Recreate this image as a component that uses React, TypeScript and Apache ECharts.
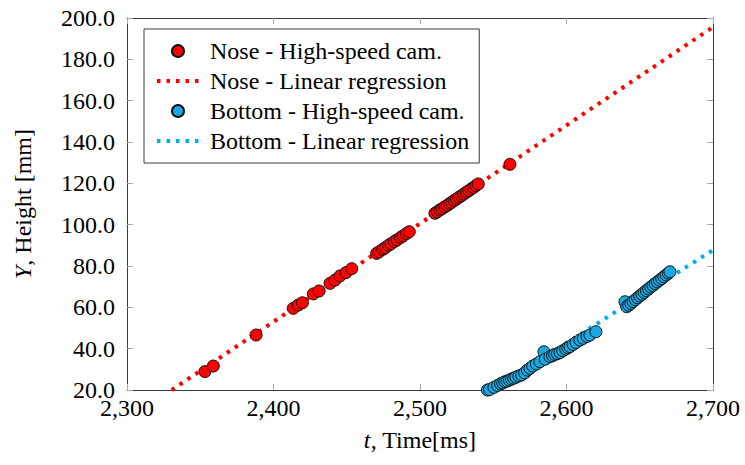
import React, { useEffect, useRef } from "react";
import * as echarts from "echarts";

const FONT = "'Liberation Serif', 'Times New Roman', Times, serif";

// Nose – high-speed camera
const noseT = [
  2353.2, 2358.9, 2388.1, 2413.5, 2416.9, 2419.7, 2427.2, 2431.1, 2438.6, 2442.0,
  2445.4, 2449.5, 2453.4,
  2470.4, 2472.2, 2474.6, 2476.3, 2478.5, 2480.2, 2482.6, 2484.3, 2486.7, 2488.4, 2490.8, 2492.7,
  2510.2, 2511.8, 2513.5, 2515.1, 2516.9, 2518.6, 2520.2, 2521.6, 2523.3, 2525.0, 2526.6,
  2528.3, 2529.9, 2531.7, 2533.3, 2535.0, 2536.6, 2538.2, 2539.8,
  2561.4,
];
const noseY = [
  28.9, 31.6, 46.6, 59.5, 61.1, 62.2, 66.5, 67.9, 71.6, 73.2,
  75.2, 76.8, 78.7,
  86.1, 86.9, 88.1, 88.8, 90.0, 90.7, 91.9, 92.6, 93.8, 94.5, 95.7, 96.6,
  105.5, 106.2, 107.1, 107.7, 108.6, 109.3, 110.2, 110.8, 111.7, 112.4, 113.3,
  114.0, 114.8, 115.7, 116.4, 117.3, 118.0, 118.9, 119.7,
  129.2,
];

// Nose – linear regression
const noseFitT = [2330.5, 2700];
const noseFitY = [20.0, 195.6];

// Bottom – high-speed camera
const bottomT = [
  2546.0, 2547.5, 2550.5, 2553.0, 2555.0, 2556.5, 2558.0, 2559.5, 2561.0, 2562.5,
  2564.0, 2565.5, 2567.5, 2569.4, 2571.5, 2573.3, 2575.1, 2577.0, 2579.5, 2581.9,
  2584.6, 2585.5, 2588.7, 2590.5, 2592.0, 2593.8, 2595.6, 2597.5, 2599.5, 2601.0,
  2602.4, 2604.5, 2606.5, 2609.2, 2611.5, 2614.0, 2616.0, 2620.1,
  2639.9, 2641.1, 2642.5, 2644.0, 2645.5, 2647.0, 2648.5, 2650.0, 2651.5, 2653.0,
  2654.5, 2656.0, 2657.5, 2659.0, 2660.5, 2662.0, 2663.5, 2665.0, 2666.5, 2668.0,
  2669.5, 2670.6,
];
const bottomY = [
  20.0, 20.2, 21.3, 22.2, 23.0, 23.4, 24.0, 24.3, 24.8, 25.3,
  25.7, 26.2, 26.8, 27.3, 28.3, 29.6, 30.5, 31.6, 32.6, 33.7,
  38.5, 34.9, 36.1, 36.6, 37.2, 37.6, 38.1, 39.0, 39.8, 40.5,
  41.0, 42.0, 43.0, 44.2, 45.0, 45.9, 46.6, 48.2,
  62.7, 60.3, 61.0, 61.9, 62.8, 63.7, 64.6, 65.5, 66.3, 67.2,
  68.1, 68.9, 69.8, 70.6, 71.5, 72.3, 73.1, 73.9, 74.8, 75.7,
  76.5, 77.2,
];

// Bottom – linear regression
const bottomFitT = [2549.5, 2700];
const bottomFitY = [20.0, 87.7];

const seriesNames = [
  "Nose - High-speed cam.",
  "Nose - Linear regression",
  "Bottom - High-speed cam.",
  "Bottom - Linear regression",
];

const RED = "#ff0000";
const BLUE_FILL = "#1aa8e3";
const BLUE_LINE = "#00adef";
const DASH = [3.5, 6];

const zip = (a: number[], b: number[]) => a.map((v, i) => [v, b[i]]);

export default function App() {
  const ref = useRef<HTMLDivElement>(null);
  useEffect(() => {
    document.body.style.margin = "0";
    const chart = echarts.init(ref.current!, undefined, { renderer: "svg" });
    const axisLine = { show: true, lineStyle: { color: "#3a3a3a", width: 1 } };
    const axisTick = { show: true, inside: true, length: 6, lineStyle: { color: "#a8a8a8", width: 1 } };
    const label = { fontFamily: FONT, fontSize: 24, color: "#000" };
    const italic = { i: { fontFamily: FONT, fontSize: 24, fontStyle: "italic", color: "#000" } };
    chart.setOption({
      animation: false,
      backgroundColor: "#fff",
      textStyle: { fontFamily: FONT },
      grid: { left: 127, right: 32, top: 18, bottom: 75, containLabel: false, outerBoundsMode: "none" },
      legend: {
        orient: "vertical",
        left: 144,
        top: 29,
        padding: [10, 10, 10, 11],
        itemGap: 6,
        itemWidth: 42,
        itemHeight: 12,
        borderColor: "#3a3a3a",
        borderWidth: 1,
        borderRadius: 0,
        backgroundColor: "#fff",
        textStyle: { fontFamily: FONT, fontSize: 24, color: "#000", padding: [0, 0, 0, 6] },
        data: [
          { name: seriesNames[0], icon: "circle" },
          {
            name: seriesNames[1],
            itemStyle: { opacity: 0 },
            lineStyle: { color: RED, width: 4, type: DASH, opacity: 1 },
          },
          { name: seriesNames[2], icon: "circle" },
          {
            name: seriesNames[3],
            itemStyle: { opacity: 0 },
            lineStyle: { color: BLUE_LINE, width: 4, type: DASH, opacity: 1 },
          },
        ],
      },
      xAxis: [
        {
          type: "value",
          min: 2300,
          max: 2700,
          interval: 100,
          position: "bottom",
          axisLine,
          axisTick,
          splitLine: { show: false },
          axisLabel: {
            ...label,
            margin: 6,
            formatter: (v: number) => v.toLocaleString("en-US"),
          },
          name: "{i|t}, Time[ms]",
          nameLocation: "middle",
          nameGap: 38,
          nameTextStyle: { ...label, rich: italic },
        },
        {
          type: "value",
          min: 2300,
          max: 2700,
          interval: 100,
          position: "top",
          axisLine,
          axisTick,
          splitLine: { show: false },
          axisLabel: { show: false },
        },
      ],
      yAxis: [
        {
          type: "value",
          min: 20,
          max: 200,
          interval: 20,
          position: "left",
          axisLine,
          axisTick,
          splitLine: { show: false },
          axisLabel: { ...label, margin: 12, formatter: (v: number) => v.toFixed(1) },
          name: "{i|Y}, Height [mm]",
          nameLocation: "middle",
          nameGap: 92,
          nameRotate: 90,
          nameTextStyle: { ...label, rich: italic },
        },
        {
          type: "value",
          min: 20,
          max: 200,
          interval: 20,
          position: "right",
          axisLine,
          axisTick,
          splitLine: { show: false },
          axisLabel: { show: false },
        },
      ],
      series: [
        {
          name: seriesNames[0],
          type: "scatter",
          z: 3,
          symbol: "circle",
          symbolSize: 12,
          itemStyle: { color: RED, borderColor: "#111", borderWidth: 1, opacity: 1 },
          data: zip(noseT, noseY),
        },
        {
          name: seriesNames[1],
          type: "line",
          z: 2,
          symbol: "none",
          lineStyle: { color: RED, width: 4, type: DASH },
          itemStyle: { color: RED },
          data: zip(noseFitT, noseFitY),
        },
        {
          name: seriesNames[2],
          type: "scatter",
          z: 3,
          symbol: "circle",
          symbolSize: 12,
          itemStyle: { color: BLUE_FILL, borderColor: "#111", borderWidth: 1, opacity: 1 },
          data: zip(bottomT, bottomY),
        },
        {
          name: seriesNames[3],
          type: "line",
          z: 2,
          symbol: "none",
          lineStyle: { color: BLUE_LINE, width: 4, type: DASH },
          itemStyle: { color: BLUE_LINE },
          data: zip(bottomFitT, bottomFitY),
        },
      ],
    });
    return () => chart.dispose();
  }, []);
  return (
    <div
      ref={ref}
      style={{ position: "fixed", left: 0, top: 0, width: 745, height: 465 }}
    />
  );
}
